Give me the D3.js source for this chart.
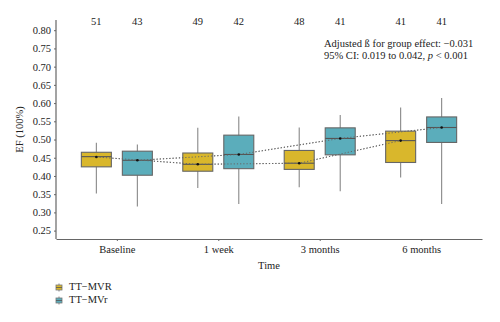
<!DOCTYPE html>
<html>
<head>
<meta charset="utf-8">
<script src="https://cdn.jsdelivr.net/npm/d3@7"></script>
<style>
  body { margin: 0; background: #fff; }
  svg { font-family: "Liberation Serif", "DejaVu Serif", serif; }
</style>
</head>
<body>
<svg id="chart"></svg>
<script>
const times = ["Baseline", "1 week", "3 months", "6 months"];
const groups = ["TT\u2212MVR", "TT\u2212MVr"];
const colors = ["#d9b72c", "#5badbb"];
const yTicks = [0.25, 0.30, 0.35, 0.40, 0.45, 0.50, 0.55, 0.60, 0.65, 0.70, 0.75, 0.80];

// box stats per time point: [whisker low, q1, median, q3, whisker high]
const mvrStats = [
  [0.352, 0.425, 0.453, 0.465, 0.491],
  [0.367, 0.413, 0.432, 0.463, 0.532],
  [0.369, 0.418, 0.435, 0.470, 0.533],
  [0.396, 0.437, 0.497, 0.523, 0.588]
];
const mvrSmallStats = [
  [0.316, 0.402, 0.443, 0.468, 0.486],
  [0.323, 0.420, 0.459, 0.512, 0.563],
  [0.358, 0.458, 0.503, 0.532, 0.567],
  [0.323, 0.492, 0.533, 0.562, 0.614]
];
const mvrMeans = [0.452, 0.432, 0.435, 0.497];
const mvrSmallMeans = [0.443, 0.459, 0.503, 0.533];
const mvrCounts = [51, 49, 48, 41];
const mvrSmallCounts = [43, 42, 41, 41];

const width = 500, height = 322;
const margin = { left: 56, right: 18, top: 20, bottom: 83 };

const svg = d3.select("#chart").attr("width", width).attr("height", height);

const x = d3.scalePoint().domain(times)
  .range([margin.left, width - margin.right]).padding(0.6);
const y = d3.scaleLinear().domain([0.227, 0.828])
  .range([height - margin.bottom, margin.top]);

const offset = 20.5, boxW = 30;

const series = [
  { name: groups[0], color: colors[0], stats: mvrStats, means: mvrMeans, counts: mvrCounts, dx: -offset },
  { name: groups[1], color: colors[1], stats: mvrSmallStats, means: mvrSmallMeans, counts: mvrSmallCounts, dx: offset }
];

// axes
const yAxis = svg.append("g")
  .attr("transform", `translate(${margin.left},0)`)
  .call(d3.axisLeft(y).tickValues(yTicks).tickFormat(d3.format(".2f")).tickSize(2).tickSizeOuter(0));
const xAxis = svg.append("g")
  .attr("transform", `translate(0,${height - margin.bottom})`)
  .call(d3.axisBottom(x).tickSize(2).tickSizeOuter(0));

[yAxis, xAxis].forEach(ax => {
  ax.select(".domain").attr("stroke", "#666").attr("stroke-width", 1.2);
  ax.selectAll(".tick line").attr("stroke", "#666");
  ax.selectAll("text").attr("fill", "#222").style("font-size", "10.5px")
    .style("font-family", "Liberation Serif, serif");
});
yAxis.select(".domain").attr("d", `M0,${y(0.227)}V${margin.top}`);
xAxis.selectAll(".tick text").attr("dy", "0.9em");

svg.append("text")
  .attr("transform", `translate(21,${(margin.top + height - margin.bottom) / 2}) rotate(-90)`)
  .attr("text-anchor", "middle").attr("dominant-baseline", "middle")
  .attr("font-size", 10.5).attr("fill", "#222").text("EF (100%)");

svg.append("text")
  .attr("x", (margin.left + width - margin.right) / 2).attr("y", 269)
  .attr("text-anchor", "middle").attr("font-size", 10.5).attr("fill", "#222").text("Time");

// mean lines (dotted)
series.forEach(s => {
  svg.append("path")
    .datum(s.means)
    .attr("fill", "none").attr("stroke", "#777").attr("stroke-width", 1)
    .attr("stroke-dasharray", "1.2,2")
    .attr("d", d3.line().x((d, i) => x(times[i]) + s.dx).y(d => y(d)));
});

// boxes
series.forEach(s => {
  const g = svg.append("g");
  const item = g.selectAll("g").data(s.stats).join("g")
    .attr("transform", (d, i) => `translate(${x(times[i]) + s.dx},0)`);
  item.append("line")
    .attr("y1", d => y(d[0])).attr("y2", d => y(d[4]))
    .attr("stroke", "#888").attr("stroke-width", 1.1);
  item.append("rect")
    .attr("x", -boxW / 2).attr("width", boxW)
    .attr("y", d => y(d[3])).attr("height", d => y(d[1]) - y(d[3]))
    .attr("fill", s.color).attr("stroke", "#666").attr("stroke-width", 1.1);
  item.append("line")
    .attr("x1", -boxW / 2).attr("x2", boxW / 2)
    .attr("y1", d => y(d[2])).attr("y2", d => y(d[2]))
    .attr("stroke", "#555").attr("stroke-width", 1.1);
});

// dotted lines over boxes, then mean dots
series.forEach(s => {
  svg.append("path")
    .datum(s.means)
    .attr("fill", "none").attr("stroke", "#666").attr("stroke-width", 1)
    .attr("stroke-dasharray", "1.2,2")
    .attr("d", d3.line().x((d, i) => x(times[i]) + s.dx).y(d => y(d)));
  svg.append("g").selectAll("circle").data(s.means).join("circle")
    .attr("cx", (d, i) => x(times[i]) + s.dx).attr("cy", d => y(d))
    .attr("r", 1.3).attr("fill", "#111");
});

// group sizes along the top
series.forEach(s => {
  svg.append("g").selectAll("text").data(s.counts).join("text")
    .attr("x", (d, i) => x(times[i]) + s.dx).attr("y", 25)
    .attr("text-anchor", "middle").attr("font-size", 10.5).attr("fill", "#222")
    .text(d => d);
});

// effect annotation
const note = svg.append("text").attr("x", 324).attr("font-size", 10.5).attr("fill", "#222");
note.append("tspan").attr("x", 324).attr("y", 47).text("Adjusted \u00df for group effect: \u22120.031");
const l2 = note.append("tspan").attr("x", 324).attr("y", 59);
l2.append("tspan").text("95% CI: 0.019 to 0.042, ");
l2.append("tspan").attr("font-style", "italic").text("p");
l2.append("tspan").text(" < 0.001");

// legend
const legend = svg.append("g").selectAll("g").data(series).join("g")
  .attr("transform", (d, i) => `translate(59,${287.5 + i * 13})`);
legend.append("line").attr("y1", -4).attr("y2", 4).attr("stroke", "#888");
legend.append("rect").attr("x", -3).attr("y", -2.5).attr("width", 6).attr("height", 5)
  .attr("fill", d => d.color).attr("stroke", "#777").attr("stroke-width", 0.8);
legend.append("line").attr("x1", -3).attr("x2", 3).attr("stroke", "#555").attr("stroke-width", 0.8);
legend.append("text").attr("x", 10).attr("y", 0).attr("dominant-baseline", "middle")
  .attr("font-size", 10.5).attr("fill", "#222").text(d => d.name);
</script>
</body>
</html>
